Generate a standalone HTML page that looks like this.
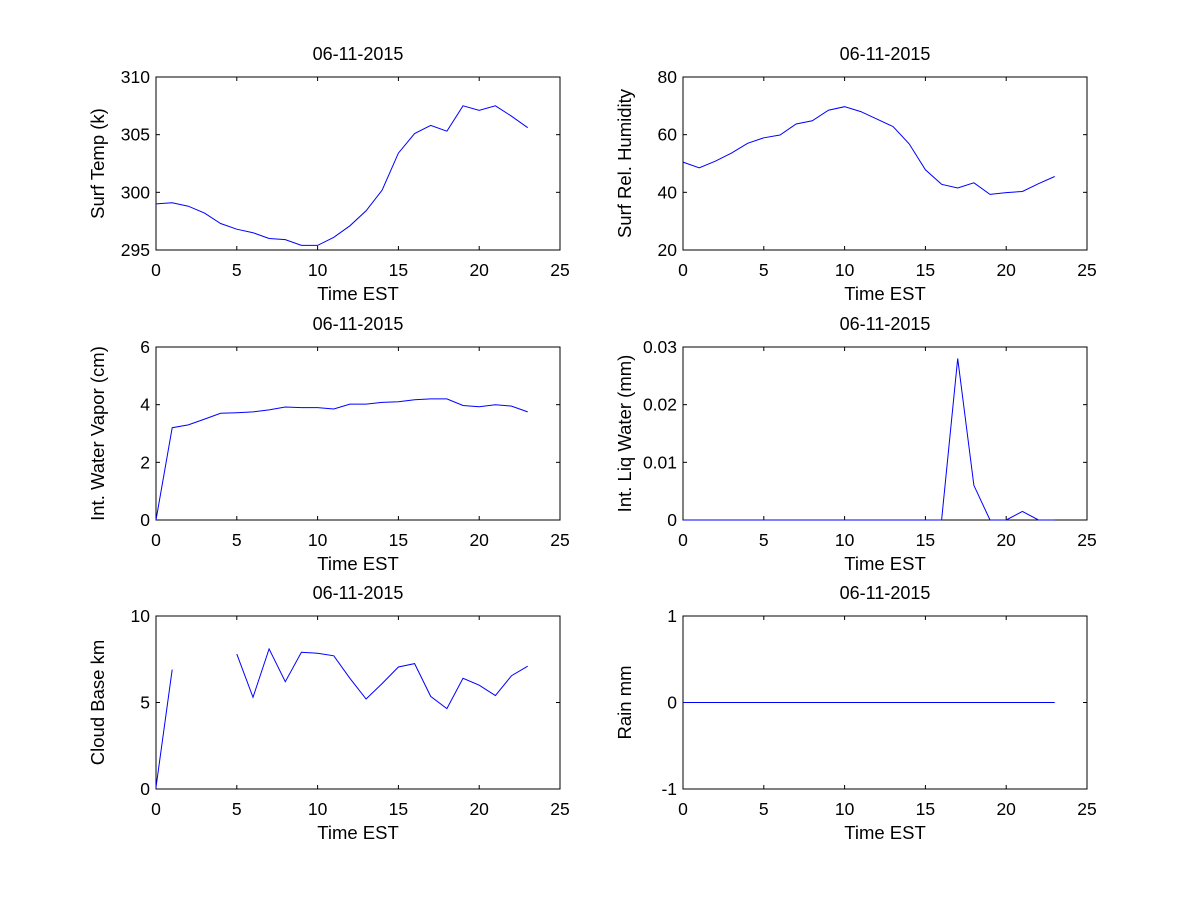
<!DOCTYPE html>
<html><head><meta charset="utf-8"><style>
html,body{margin:0;padding:0;background:#fff;}
svg text{font-family:"Liberation Sans",Arial,sans-serif;fill:#000;}
</style></head><body>
<svg id="fig" width="1200" height="900" viewBox="0 0 1200 900" xmlns="http://www.w3.org/2000/svg">
<rect x="0" y="0" width="1200" height="900" fill="#fff"/>
</svg>
<script>
const hours = [0,1,2,3,4,5,6,7,8,9,10,11,12,13,14,15,16,17,18,19,20,21,22,23];
const xTicks = [0,5,10,15,20,25];
const surfTemp = [299.0,299.1,298.8,298.2,297.3,296.8,296.5,296.0,295.9,295.4,295.4,296.1,297.1,298.4,300.2,303.4,305.1,305.8,305.3,307.5,307.1,307.5,306.6,305.6];
const surfTempTicks = [295,300,305,310];
const relHum = [50.5,48.5,50.8,53.6,57.0,58.9,59.9,63.7,64.8,68.5,69.7,68.0,65.4,62.8,56.8,47.8,42.8,41.5,43.3,39.3,39.9,40.3,43.0,45.5];
const relHumTicks = [20,40,60,80];
const waterVapor = [0.0,3.2,3.3,3.5,3.7,3.72,3.75,3.82,3.92,3.9,3.9,3.85,4.02,4.02,4.08,4.1,4.17,4.2,4.2,3.97,3.93,4.0,3.95,3.75];
const waterVaporTicks = [0,2,4,6];
const liqWater = [0,0,0,0,0,0,0,0,0,0,0,0,0,0,0,0,0,0.028,0.006,0,0,0.0015,0,0];
const liqWaterTicks = [0,0.01,0.02,0.03];
const cloudBase = [0.1,6.9,null,null,null,7.8,5.3,8.1,6.2,7.9,7.85,7.7,6.4,5.2,6.1,7.05,7.25,5.35,4.65,6.4,6.0,5.4,6.55,7.1];
const cloudBaseTicks = [0,5,10];
const rain = [0,0,0,0,0,0,0,0,0,0,0,0,0,0,0,0,0,0,0,0,0,0,0,0];
const rainTicks = [-1,0,1];

const NS = "http://www.w3.org/2000/svg";
const svg = document.getElementById('fig');
function mk(tag, attrs, parent){const e=document.createElementNS(NS,tag);for(const k in attrs)e.setAttribute(k,attrs[k]);(parent||svg).appendChild(e);return e;}

const panels = [
 {name:'surf-temp', x:156,y:77,ylabel:'Surf Temp (k)',data:surfTemp,yt:surfTempTicks},
 {name:'rel-humidity', x:683,y:77,ylabel:'Surf Rel. Humidity',data:relHum,yt:relHumTicks},
 {name:'water-vapor', x:156,y:347,ylabel:'Int. Water Vapor (cm)',data:waterVapor,yt:waterVaporTicks},
 {name:'liq-water', x:683,y:347,ylabel:'Int. Liq Water (mm)',data:liqWater,yt:liqWaterTicks},
 {name:'cloud-base', x:156,y:616,ylabel:'Cloud Base km',data:cloudBase,yt:cloudBaseTicks},
 {name:'rain', x:683,y:616,ylabel:'Rain mm',data:rain,yt:rainTicks}
];
const W=404,H=173;
panels.forEach(p=>{
  const g=mk('g',{});
  
  
  const ymin=p.yt[0], ymax=p.yt[p.yt.length-1];
  const sx=v=>p.x+(v-xTicks[0])/(xTicks[xTicks.length-1]-xTicks[0])*W;
  const sy=v=>p.y+H-(v-ymin)/(ymax-ymin)*H;
  const r=mk('rect',{x:p.x,y:p.y,width:W,height:H,fill:'#fff',stroke:'#000','stroke-width':1},g);
  
  
  xTicks.forEach(t=>{
    const X=sx(t);
    mk('line',{x1:X,x2:X,y1:p.y+H,y2:p.y+H-4,stroke:'#000'},g);
    mk('line',{x1:X,x2:X,y1:p.y,y2:p.y+4,stroke:'#000'},g);
    const tx=mk('text',{x:X,y:p.y+H+26,'font-size':17.5,'text-anchor':'middle'},g);
    tx.textContent=t;
    
    
  });
  p.yt.forEach(t=>{
    const Y=sy(t);
    mk('line',{x1:p.x,x2:p.x+4,y1:Y,y2:Y,stroke:'#000'},g);
    mk('line',{x1:p.x+W,x2:p.x+W-4,y1:Y,y2:Y,stroke:'#000'},g);
    const tx=mk('text',{x:p.x-6,y:Y+6,'font-size':17.5,'text-anchor':'end'},g);
    tx.textContent=t;
    
    
  });
  const tt=mk('text',{x:p.x+W/2,y:p.y-17,'font-size':18,'text-anchor':'middle'},g);
  tt.textContent='06-11-2015';
  
  
  const xl=mk('text',{x:p.x+W/2,y:p.y+H+50,'font-size':18.5,'text-anchor':'middle'},g);
  xl.textContent='Time EST';
  
  
  const yl=mk('text',{x:0,y:0,'font-size':18.5,'text-anchor':'middle',transform:`translate(${p.x-52},${p.y+H/2}) rotate(-90)`},g);
  yl.textContent=p.ylabel;
  
  
  let d='', pen=false;
  p.data.forEach((v,i)=>{
    if(v===null){pen=false;return;}
    d+=(pen?'L':'M')+sx(hours[i]).toFixed(1)+' '+sy(v).toFixed(1)+' ';
    pen=true;
  });
  const line=mk('path',{d:d,fill:'none',stroke:'#0000ff','stroke-width':1},g);
  
  
});
</script>
</body></html>
